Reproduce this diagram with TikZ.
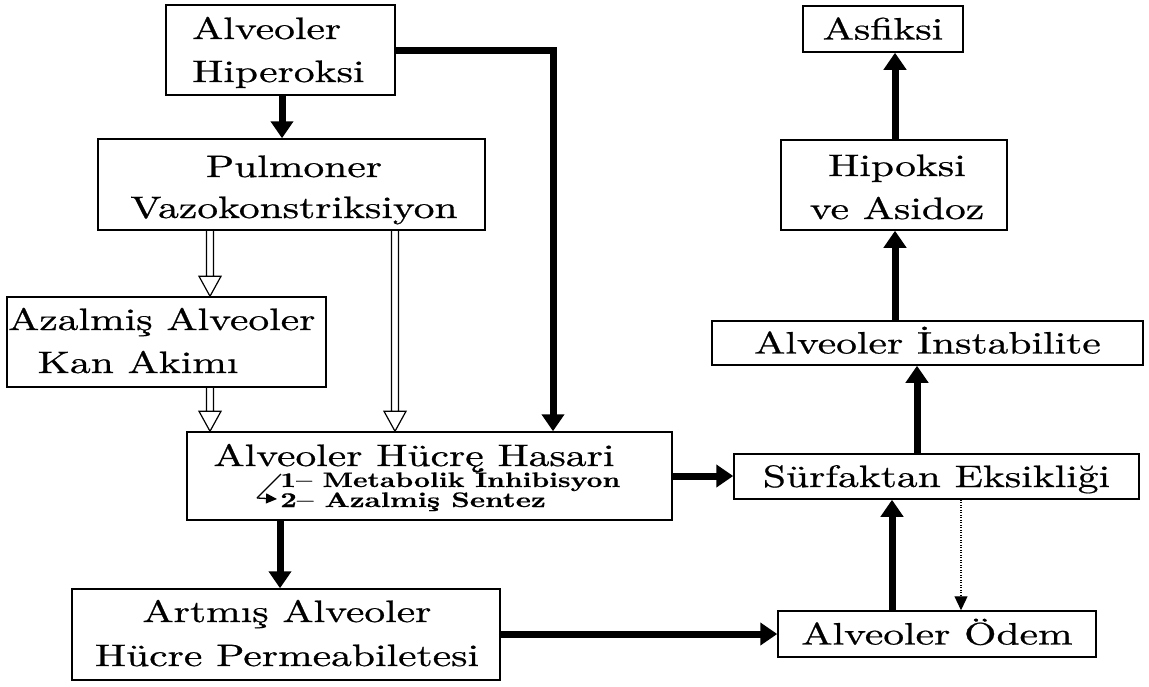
\documentclass[tikz,border=0pt]{standalone}
\usepackage{fontspec}
\setmainfont{lmroman10-regular.otf}[FakeBold=0.6,BoldFont=lmroman10-bold.otf,BoldFeatures={FakeBold=0.3}]
\usetikzlibrary{arrows.meta,calc}
\newcommand\hstretch[2][1.34]{\scalebox{#1}[1]{#2}}
\tikzset{
  box/.style={draw, line width=1.5pt, inner sep=0pt},
  lbl/.style={inner sep=0pt, font=\fontsize{31}{43}\selectfont},
  one/.style={box, text height=21pt, text depth=0pt, font=\fontsize{31}{43}\selectfont},
  sub/.style={inner sep=0pt, font=\fontsize{21}{24}\selectfont\bfseries},
  big/.style={line width=7pt, -{Triangle[length=17pt,width=22pt]}},
  dots/.style={line width=1.2pt, dash pattern=on 1.2pt off 1.3pt, -{Triangle[length=14pt,width=13pt]}},
  hollow/.style={line width=1.2pt, to path={let \p1=(\tikztostart), \p2=(\tikztotarget) in
    (\x1-3.5pt,\y1) -- (\x1-3.5pt,\y2+20pt) (\x1+3.5pt,\y1) -- (\x1+3.5pt,\y2+20pt)
    (\x1-11pt,\y2+20pt) -- (\x1,\y2) -- (\x1+11pt,\y2+20pt) -- cycle}}
}
\begin{document}
\begin{tikzpicture}[x=1pt,y=-1pt]
\fill[white] (0,0) rectangle (1149,686);
\useasboundingbox (0,0) rectangle (1149,686);

% left column boxes
\node[box, minimum width=229pt, minimum height=90pt] (hip) at (280.5,50) {};
\node[lbl, anchor=base west] (hipT) at (192,39)
  {\hstretch{\begin{tabular}[t]{@{}l@{}}Alveoler\\Hiperoksi\end{tabular}}};

\node[box, minimum width=387pt, minimum height=91pt] (pul) at (291.5,184.5) {};
\node[lbl, anchor=base] (pulT) at (294,177)
  {\hstretch{\begin{tabular}[t]{@{}c@{}}Pulmoner\\[-2pt]Vazokonstriksiyon\end{tabular}}};

\node[box, minimum width=319pt, minimum height=90pt] (aza) at (166.5,342) {};
\node[lbl, anchor=base west] (azaT) at (8,330)
  {\hstretch{\begin{tabular}[t]{@{}l@{}}Azalmiş Alveoler\\\hspace{22pt}Kan Akimı\end{tabular}}};

\node[box, minimum width=485pt, minimum height=88pt] (hucre) at (429.5,476) {};
\node[lbl, anchor=base] (hucreT) at (414,466) {\hstretch{Alveoler Hücrę Hasari}};
\node[sub, anchor=base west] (hucreA) at (280,487) {\hstretch[1.32]{1– Metabolik İnhibisyon}};
\node[sub, anchor=base west] (hucreB) at (280,507) {\hstretch[1.38]{2– Azalmiş Sentez}};

\node[box, minimum width=428pt, minimum height=91pt] (art) at (286,634.5) {};
\node[lbl, anchor=base] (artT) at (287,622)
  {\hstretch{\begin{tabular}[t]{@{}c@{}}Artmış Alveoler\\[1pt]Hücre Permeabiletesi\end{tabular}}};

% right column boxes
\node[one, minimum width=160pt, minimum height=46pt] (asf) at (883,29) {\hstretch{Asfiksi}};
\node[box, minimum width=226pt, minimum height=90pt] (hipok) at (894,185) {};
\node[lbl, anchor=base] (hipokT) at (897,176)
  {\hstretch{\begin{tabular}[t]{@{}c@{}}Hipoksi\\ve Asidoz\end{tabular}}};
\node[one, minimum width=431pt, minimum height=44pt] (inst) at (927.5,343) {\hstretch{Alveoler İnstabilite}\hspace{14pt}};
\node[one, minimum width=405pt, minimum height=45pt] (surf) at (936.5,476.5) {\hstretch{Sürfaktan Eksikliği}};
\node[one, minimum width=318pt, minimum height=46pt] (odem) at (937,634) {\hstretch{Alveoler Ödem}};

% helper x-positions
\coordinate (xa) at (210,0);
\coordinate (xb) at (395,0);
\coordinate (xc) at (553,0);
\coordinate (xd) at (280,0);
\coordinate (xe) at (892,0);
\coordinate (xf) at (917,0);
\coordinate (xg) at (895,0);
\coordinate (xh) at (961,0);
\coordinate (xi) at (282,0);

% thick arrows
\draw[big] (hip.south -| xi) -- (pul.north -| xi);
\draw[big] (hip.east) -| (hucre.north -| xc);
\draw[big] (hucre.south -| xd) -- (art.north -| xd);
\draw[big] (hucre.east) -- (hucre.east -| surf.west);
\draw[big] (art.east |- odem.west) -- (odem.west);
\draw[big] (odem.north -| xe) -- (surf.south -| xe);
\draw[big] (surf.north -| xf) -- (inst.south -| xf);
\draw[big] (inst.north -| xg) -- (hipok.south -| xg);
\draw[big] (hipok.north -| xg) -- (asf.south -| xg);

% dotted arrow
\draw[dots] (surf.south -| xh) -- (odem.north -| xh);

% hollow double arrows
\draw[hollow] (pul.south -| xa) to (aza.north -| xa);
\draw[hollow] (pul.south -| xb) to (hucre.north -| xb);
\draw[hollow] (aza.south -| xa) to (hucre.north -| xa);

% small bent arrow glyph beside the list
\draw[line width=1.3pt] (281,474) -- (257,498);
\draw[line width=1.3pt, -{Triangle[length=11pt,width=10pt]}] (257,498) -- (277,499);
\end{tikzpicture}
\end{document}
